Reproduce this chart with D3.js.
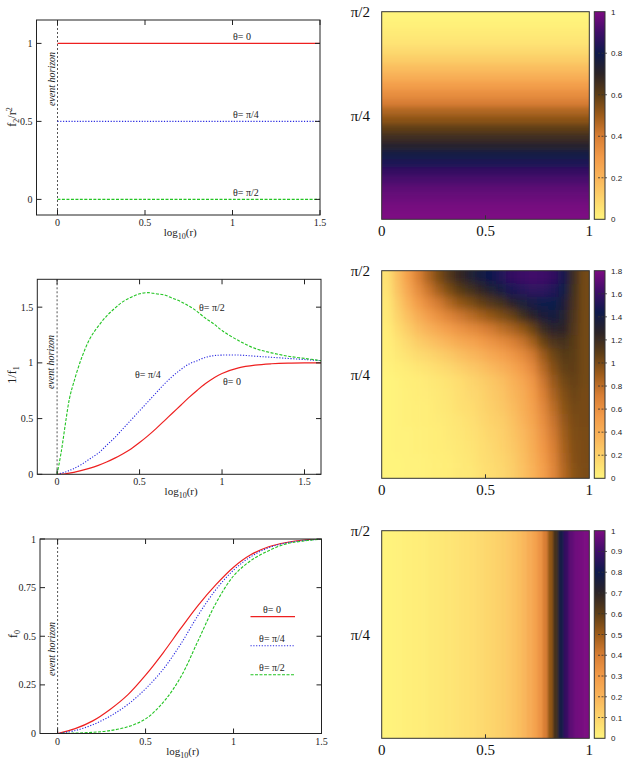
<!DOCTYPE html>
<html>
<head>
<meta charset="utf-8">
<script src="https://cdn.jsdelivr.net/npm/d3@7"></script>
<style>
  body { margin: 0; background: #fff; }
</style>
</head>
<body>
<script>
'use strict';

// ---------- data ----------

// panel 1 : f2/r^2 vs log10(r)
var logR1 = [0, 0.5, 1, 1.5];
var f2Theta0 = [1, 1, 1, 1];
var f2ThetaPi4 = [0.5, 0.5, 0.5, 0.5];
var f2ThetaPi2 = [0, 0, 0, 0];

// panel 2 : 1/f1 vs log10(r)
var logR2 = [0, 0.025, 0.05, 0.075, 0.1, 0.15, 0.2, 0.25, 0.3, 0.35, 0.4, 0.45, 0.5, 0.55, 0.6,
  0.65, 0.7, 0.75, 0.8, 0.85, 0.9, 0.95, 1.0, 1.1, 1.2, 1.3, 1.4, 1.5, 1.6];
var f1Theta0 = [0, 0.002, 0.005, 0.01, 0.018, 0.035, 0.055, 0.08, 0.11, 0.145, 0.185, 0.23, 0.285, 0.345, 0.41,
  0.48, 0.55, 0.62, 0.69, 0.755, 0.815, 0.865, 0.905, 0.955, 0.98, 0.992, 0.998, 1.0, 1.0];
var f1ThetaPi4 = [0, 0.01, 0.02, 0.035, 0.05, 0.09, 0.14, 0.19, 0.26, 0.33, 0.41, 0.49, 0.57, 0.65, 0.73,
  0.81, 0.88, 0.94, 0.99, 1.02, 1.05, 1.065, 1.07, 1.07, 1.06, 1.05, 1.04, 1.03, 1.02];
var f1ThetaPi2 = [0, 0.2, 0.45, 0.68, 0.82, 1.05, 1.22, 1.33, 1.42, 1.49, 1.55, 1.59, 1.62, 1.63, 1.62,
  1.61, 1.58, 1.55, 1.51, 1.46, 1.40, 1.35, 1.29, 1.20, 1.13, 1.09, 1.06, 1.04, 1.02];

// panel 3 : f0 vs log10(r)
var logR3 = [0, 0.1, 0.2, 0.3, 0.4, 0.5, 0.6, 0.7, 0.8, 0.9, 1.0, 1.1, 1.2, 1.3, 1.4, 1.5];
var f0Theta0 = [0, 0.025, 0.065, 0.125, 0.20, 0.30, 0.415, 0.54, 0.66, 0.765, 0.855, 0.92, 0.96, 0.982, 0.995, 1.0];
var f0ThetaPi4 = [0, 0.015, 0.045, 0.09, 0.15, 0.23, 0.33, 0.46, 0.61, 0.74, 0.84, 0.91, 0.955, 0.98, 0.992, 1.0];
var f0ThetaPi2 = [0, 0.002, 0.006, 0.015, 0.035, 0.075, 0.16, 0.29, 0.48, 0.67, 0.81, 0.89, 0.94, 0.975, 0.99, 1.0];

// tick labels
var xTicksLog = [0, 0.5, 1, 1.5];
var yTicks1 = [0, 0.5, 1];
var yTicks2 = [0, 0.5, 1, 1.5];
var yTicks3 = [0, 0.25, 0.5, 0.75, 1];
var hmXTicks = [0, 0.5, 1];
var hmYTicks = [{ v: Math.PI / 4, label: 'π/4' }, { v: Math.PI / 2, label: 'π/2' }];
var cbTicks1 = [0, 0.2, 0.4, 0.6, 0.8, 1];
var cbTicks2 = [0, 0.2, 0.4, 0.6, 0.8, 1, 1.2, 1.4, 1.6, 1.8];
var cbTicks3 = [0, 0.1, 0.2, 0.3, 0.4, 0.5, 0.6, 0.7, 0.8, 0.9, 1];

// heatmap 1 (f2/r^2): one value per theta row, top row (theta = pi/2) first
var hm1Rows = [0.00, 0.01, 0.03, 0.05, 0.08, 0.12, 0.17, 0.22, 0.28, 0.34, 0.40, 0.47,
  0.53, 0.60, 0.66, 0.72, 0.78, 0.83, 0.88, 0.92, 0.95, 0.97, 0.99, 1.00];

// heatmap 2 (1/f1): 16 theta rows (top first) x 20 columns in x
var hm2Grid = [
  [0.10, 0.30, 0.50, 0.70, 0.86, 1.00, 1.12, 1.23, 1.31, 1.38, 1.45, 1.52, 1.57, 1.61, 1.63, 1.62, 1.57, 1.46, 1.20, 1.02],
  [0.09, 0.27, 0.44, 0.62, 0.76, 0.89, 1.00, 1.10, 1.17, 1.24, 1.31, 1.38, 1.48, 1.53, 1.56, 1.56, 1.52, 1.42, 1.18, 1.02],
  [0.07, 0.22, 0.37, 0.52, 0.64, 0.74, 0.84, 0.93, 0.99, 1.06, 1.12, 1.18, 1.28, 1.34, 1.40, 1.44, 1.44, 1.36, 1.16, 1.02],
  [0.06, 0.18, 0.29, 0.41, 0.51, 0.60, 0.68, 0.75, 0.81, 0.87, 0.93, 0.99, 1.05, 1.18, 1.26, 1.35, 1.38, 1.32, 1.14, 1.02],
  [0.04, 0.13, 0.22, 0.31, 0.38, 0.45, 0.51, 0.58, 0.63, 0.68, 0.74, 0.80, 0.86, 0.93, 1.04, 1.20, 1.28, 1.26, 1.12, 1.02],
  [0.03, 0.09, 0.15, 0.22, 0.27, 0.32, 0.37, 0.43, 0.47, 0.52, 0.58, 0.63, 0.70, 0.77, 0.88, 1.04, 1.14, 1.17, 1.10, 1.02],
  [0.02, 0.06, 0.10, 0.14, 0.17, 0.21, 0.25, 0.30, 0.34, 0.38, 0.44, 0.49, 0.56, 0.63, 0.74, 0.90, 1.03, 1.11, 1.09, 1.02],
  [0.01, 0.03, 0.05, 0.08, 0.10, 0.13, 0.16, 0.20, 0.24, 0.28, 0.33, 0.38, 0.45, 0.53, 0.64, 0.82, 0.97, 1.07, 1.08, 1.02],
  [0.00, 0.01, 0.03, 0.04, 0.06, 0.08, 0.10, 0.13, 0.17, 0.21, 0.25, 0.30, 0.37, 0.45, 0.56, 0.75, 0.91, 1.02, 1.06, 1.02],
  [0.00, 0.01, 0.02, 0.04, 0.05, 0.07, 0.09, 0.12, 0.15, 0.18, 0.23, 0.27, 0.34, 0.41, 0.52, 0.70, 0.86, 0.98, 1.04, 1.01],
  [0.00, 0.01, 0.02, 0.03, 0.04, 0.06, 0.08, 0.11, 0.13, 0.17, 0.21, 0.25, 0.31, 0.39, 0.49, 0.65, 0.81, 0.95, 1.02, 1.01],
  [0.00, 0.01, 0.02, 0.03, 0.04, 0.05, 0.07, 0.09, 0.11, 0.15, 0.19, 0.22, 0.28, 0.36, 0.46, 0.61, 0.77, 0.92, 1.00, 1.01],
  [0.00, 0.01, 0.01, 0.02, 0.03, 0.04, 0.06, 0.08, 0.10, 0.13, 0.17, 0.20, 0.26, 0.33, 0.43, 0.58, 0.74, 0.89, 0.99, 1.00],
  [0.00, 0.01, 0.01, 0.02, 0.03, 0.04, 0.05, 0.07, 0.09, 0.12, 0.15, 0.19, 0.24, 0.31, 0.41, 0.55, 0.71, 0.87, 0.98, 1.00],
  [0.00, 0.00, 0.01, 0.01, 0.02, 0.03, 0.04, 0.06, 0.08, 0.11, 0.14, 0.17, 0.22, 0.29, 0.39, 0.52, 0.68, 0.85, 0.97, 1.00],
  [0.00, 0.00, 0.01, 0.01, 0.02, 0.03, 0.04, 0.06, 0.07, 0.10, 0.13, 0.16, 0.21, 0.28, 0.37, 0.50, 0.66, 0.83, 0.96, 1.00]
];

// heatmap 3 (f0): one value per x column (bands are vertical)
var hm3Cols = [0.00, 0.003, 0.006, 0.009, 0.012, 0.015, 0.018, 0.022, 0.026, 0.03,
  0.034, 0.038, 0.043, 0.048, 0.053, 0.058, 0.064, 0.07, 0.077, 0.084,
  0.092, 0.10, 0.11, 0.12, 0.135, 0.15, 0.17, 0.195, 0.23, 0.27,
  0.32, 0.40, 0.52, 0.65, 0.78, 0.88, 0.95, 0.98, 0.99, 1.00];

// palette (fraction of colour range -> colour)
var paletteStops = [0, 0.1, 0.2, 0.3, 0.4, 0.5, 0.6, 0.7, 0.8, 0.9, 1];
var paletteColors = ['#fff47c', '#fdd46c', '#f9b45a', '#f29a48', '#d87e34', '#9e5c1a',
  '#5e3e16', '#2c2426', '#0e1a4c', '#3e0e68', '#7c0a82'];

// ---------- drawing ----------

var svg = d3.select('body').append('svg')
  .attr('width', 629)
  .attr('height', 763)
  .style('font-family', '"Liberation Serif", "Times New Roman", serif');

var defs = svg.append('defs');

var RED = '#ee2020', BLUE = '#2828e0', GREEN = '#22c422';

function styleSeries(sel, s) {
  sel.style('fill', 'none')
    .style('stroke', s.color)
    .style('stroke-width', s.width)
    .style('stroke-dasharray', s.dash);
}

function fmt(v) { return String(+v.toFixed(2)); }

function drawLinePanel(p) {
  var g = svg.append('g');
  var x = d3.scaleLinear().domain(p.xDomain).range([p.left, p.right]);
  var y = d3.scaleLinear().domain(p.yDomain).range([p.bottom, p.top]);

  defs.append('clipPath').attr('id', 'clip' + p.id)
    .append('rect')
    .attr('x', p.left).attr('y', p.top)
    .attr('width', p.right - p.left).attr('height', p.bottom - p.top);

  // event horizon
  g.append('line')
    .attr('x1', x(0)).attr('x2', x(0))
    .attr('y1', p.top).attr('y2', p.bottom)
    .style('stroke', '#555')
    .style('stroke-width', 1)
    .style('stroke-dasharray', '2,2');
  g.append('text')
    .attr('transform', 'translate(' + (x(0) - 3) + ',' + p.horizonY + ') rotate(-90)')
    .attr('text-anchor', 'middle')
    .style('font-size', '10px')
    .style('font-style', 'italic')
    .style('fill', '#222')
    .text('event horizon');

  var line = d3.line()
    .x(function (d) { return x(d[0]); })
    .y(function (d) { return y(d[1]); })
    .curve(d3.curveCatmullRom.alpha(0.5));

  p.series.forEach(function (s) {
    g.append('path')
      .datum(d3.zip(p.xs, s.values))
      .attr('d', line)
      .attr('clip-path', 'url(#clip' + p.id + ')')
      .call(styleSeries, s);
  });

  // frame
  g.append('rect')
    .attr('x', p.left).attr('y', p.top)
    .attr('width', p.right - p.left).attr('height', p.bottom - p.top)
    .style('fill', 'none')
    .style('stroke', '#222')
    .style('stroke-width', 1);

  // ticks, mirrored and pointing inwards
  var tl = 5;
  p.xTicks.forEach(function (t) {
    var px = x(t);
    g.append('line').attr('x1', px).attr('x2', px).attr('y1', p.bottom).attr('y2', p.bottom - tl).style('stroke', '#222');
    g.append('line').attr('x1', px).attr('x2', px).attr('y1', p.top).attr('y2', p.top + tl).style('stroke', '#222');
    g.append('text')
      .attr('x', px).attr('y', p.bottom + 11)
      .attr('text-anchor', 'middle')
      .style('font-size', '10px').style('fill', '#222')
      .text(fmt(t));
  });
  p.yTicks.forEach(function (t) {
    var py = y(t);
    g.append('line').attr('x1', p.left).attr('x2', p.left + tl).attr('y1', py).attr('y2', py).style('stroke', '#222');
    g.append('line').attr('x1', p.right).attr('x2', p.right - tl).attr('y1', py).attr('y2', py).style('stroke', '#222');
    g.append('text')
      .attr('x', p.left - 4).attr('y', py + 3.5)
      .attr('text-anchor', 'end')
      .style('font-size', '10px').style('fill', '#222')
      .text(fmt(t));
  });

  // x title: log10(r)
  var xt = g.append('text')
    .attr('x', (p.left + p.right) / 2 + 2).attr('y', p.bottom + 21)
    .attr('text-anchor', 'middle')
    .style('font-size', '11px').style('fill', '#222');
  xt.append('tspan').text('log');
  xt.append('tspan').attr('dy', 3).style('font-size', '8px').text('10');
  xt.append('tspan').attr('dy', -3).text('(r)');

  // y title
  var yt = g.append('text')
    .attr('transform', 'translate(' + p.yTitleX + ',' + p.yTitleY + ') rotate(-90)')
    .attr('text-anchor', 'middle')
    .style('font-size', '12px').style('fill', '#222');
  p.yTitle.forEach(function (part) {
    var ts = yt.append('tspan').text(part.t);
    if (part.dy) ts.attr('dy', part.dy);
    if (part.small) ts.style('font-size', '8px');
  });

  return { g: g, x: x, y: y };
}

// panel 1
var p1 = drawLinePanel({
  id: 1, left: 36.5, right: 320, top: 20, bottom: 215,
  xDomain: [-0.12, 1.5], yDomain: [-0.1, 1.15],
  xs: logR1, xTicks: xTicksLog, yTicks: yTicks1, horizonY: 79,
  yTitleX: 16, yTitleY: 117,
  yTitle: [{ t: 'f' }, { t: '2', dy: 3, small: true }, { t: '/r', dy: -3 }, { t: '2', dy: -4, small: true }],
  series: [
    { values: f2Theta0, color: RED, width: 1.2, dash: null },
    { values: f2ThetaPi4, color: BLUE, width: 1.1, dash: '1.2,1.6' },
    { values: f2ThetaPi2, color: GREEN, width: 1.1, dash: '3,1.5' }
  ]
});
[[1, 'θ= 0'], [0.5, 'θ= π/4'], [0, 'θ= π/2']].forEach(function (d) {
  p1.g.append('text')
    .attr('x', 233).attr('y', p1.y(d[0]) - 3)
    .style('font-size', '10px').style('fill', '#222')
    .text(d[1]);
});

// panel 2
var p2 = drawLinePanel({
  id: 2, left: 37.3, right: 321, top: 279.3, bottom: 474.3,
  xDomain: [-0.12, 1.6], yDomain: [0, 1.75],
  xs: logR2, xTicks: xTicksLog, yTicks: yTicks2, horizonY: 362,
  yTitleX: 16, yTitleY: 375,
  yTitle: [{ t: '1/f' }, { t: '1', dy: 3, small: true }],
  series: [
    { values: f1Theta0, color: RED, width: 1.2, dash: null },
    { values: f1ThetaPi4, color: BLUE, width: 1.1, dash: '1.2,1.6' },
    { values: f1ThetaPi2, color: GREEN, width: 1.1, dash: '3,1.5' }
  ]
});
[[199, 311, 'θ= π/2'], [135, 378, 'θ= π/4'], [223, 385, 'θ= 0']].forEach(function (d) {
  p2.g.append('text')
    .attr('x', d[0]).attr('y', d[1])
    .style('font-size', '10px').style('fill', '#222')
    .text(d[2]);
});

// panel 3
var series3 = [
  { values: f0Theta0, color: RED, width: 1.2, dash: null, label: 'θ= 0' },
  { values: f0ThetaPi4, color: BLUE, width: 1.1, dash: '1.2,1.6', label: 'θ= π/4' },
  { values: f0ThetaPi2, color: GREEN, width: 1.1, dash: '3,1.5', label: 'θ= π/2' }
];
var p3 = drawLinePanel({
  id: 3, left: 40, right: 321.5, top: 539, bottom: 733.5,
  xDomain: [-0.1, 1.5], yDomain: [0, 1],
  xs: logR3, xTicks: xTicksLog, yTicks: yTicks3, horizonY: 649,
  yTitleX: 17, yTitleY: 634,
  yTitle: [{ t: 'f' }, { t: '0', dy: 3, small: true }],
  series: series3
});
series3.forEach(function (s, i) {
  var ly = 616.7 + i * 29;
  p3.g.append('text')
    .attr('x', 272).attr('y', ly - 4)
    .attr('text-anchor', 'middle')
    .style('font-size', '10px').style('fill', '#222')
    .text(s.label);
  p3.g.append('line')
    .attr('x1', 250.5).attr('x2', 295).attr('y1', ly).attr('y2', ly)
    .call(styleSeries, s);
});

// ---------- heatmaps ----------

var hmLeft = 381.7, hmRight = 589.3, cbLeft = 594.3, cbRight = 605;

function drawHeatmap(h) {
  var g = svg.append('g');
  var x = d3.scaleLinear().domain([0, 1]).range([hmLeft, hmRight]);
  var y = d3.scaleLinear().domain([0, Math.PI / 2]).range([h.bottom, h.top]);
  var color = d3.scaleLinear()
    .domain(paletteStops.map(function (s) { return s * h.max; }))
    .range(paletteColors)
    .interpolate(d3.interpolateRgb);

  var nRows = h.grid.length, nCols = h.grid[0].length;
  var cells = [];
  h.grid.forEach(function (row, i) {
    row.forEach(function (v, j) { cells.push({ i: i, j: j, v: v }); });
  });

  defs.append('clipPath').attr('id', 'hmclip' + h.id)
    .append('rect')
    .attr('x', hmLeft).attr('y', h.top)
    .attr('width', hmRight - hmLeft).attr('height', h.bottom - h.top);

  // slight smoothing of the cell edges, like the interpolated original
  defs.append('filter').attr('id', 'hmblur' + h.id)
    .attr('x', '-10%').attr('y', '-10%').attr('width', '120%').attr('height', '120%')
    .append('feGaussianBlur').attr('stdDeviation', h.blur);

  var pad = 12; // outer cells run past the frame so the blur does not fade at the edges
  function x0(d) { return x(d.j / nCols) - (d.j === 0 ? pad : 0); }
  function x1(d) { return x((d.j + 1) / nCols) + (d.j === nCols - 1 ? pad : 0.6); }
  function y0(d) { return y(Math.PI / 2 * (1 - d.i / nRows)) - (d.i === 0 ? pad : 0); }
  function y1(d) { return y(Math.PI / 2 * (1 - (d.i + 1) / nRows)) + (d.i === nRows - 1 ? pad : 0.6); }

  g.append('g')
    .attr('clip-path', 'url(#hmclip' + h.id + ')')
    .append('g')
    .attr('filter', 'url(#hmblur' + h.id + ')')
    .selectAll('rect')
    .data(cells)
    .enter()
    .append('rect')
    .attr('x', x0)
    .attr('width', function (d) { return x1(d) - x0(d); })
    .attr('y', y0)
    .attr('height', function (d) { return y1(d) - y0(d); })
    .style('fill', function (d) { return color(d.v); });

  g.append('rect')
    .attr('x', hmLeft).attr('y', h.top)
    .attr('width', hmRight - hmLeft).attr('height', h.bottom - h.top)
    .style('fill', 'none').style('stroke', '#333').style('stroke-width', 1);

  // ticks and labels
  g.append('line')
    .attr('x1', x(0.5)).attr('x2', x(0.5))
    .attr('y1', h.bottom).attr('y2', h.bottom - 4)
    .style('stroke', '#333');
  hmXTicks.forEach(function (t) {
    g.append('text')
      .attr('x', x(t)).attr('y', h.bottom + 17)
      .attr('text-anchor', 'middle')
      .style('font-size', '15px').style('fill', '#111')
      .text(fmt(t));
  });
  hmYTicks.forEach(function (t) {
    g.append('text')
      .attr('x', 370).attr('y', y(t.v) + 5)
      .attr('text-anchor', 'end')
      .style('font-size', '15px').style('fill', '#111')
      .text(t.label);
  });

  // colour box
  var grad = defs.append('linearGradient')
    .attr('id', 'grad' + h.id)
    .attr('x1', 0).attr('y1', 1).attr('x2', 0).attr('y2', 0);
  paletteStops.forEach(function (s, k) {
    grad.append('stop').attr('offset', s).attr('stop-color', paletteColors[k]);
  });
  g.append('rect')
    .attr('x', cbLeft).attr('y', h.top)
    .attr('width', cbRight - cbLeft).attr('height', h.bottom - h.top)
    .style('fill', 'url(#grad' + h.id + ')')
    .style('stroke', '#333').style('stroke-width', 1);

  var cy = d3.scaleLinear().domain([0, h.max]).range([h.bottom, h.top]);
  h.cbTicks.forEach(function (t) {
    if (t > 0 && t < h.max) {
      g.append('line')
        .attr('x1', cbRight - 7).attr('x2', cbRight + 2)
        .attr('y1', cy(t)).attr('y2', cy(t))
        .style('stroke', '#333').style('stroke-width', 0.8)
        .style('stroke-dasharray', '2,1.5');
    }
    g.append('text')
      .attr('x', 611).attr('y', cy(t) + 3)
      .style('font-family', '"Liberation Sans", Arial, sans-serif')
      .style('font-size', '8px').style('fill', '#222')
      .text(fmt(t));
  });
}

drawHeatmap({
  id: 1, top: 11.7, bottom: 219.3, max: 1, blur: '0 2.5',
  grid: hm1Rows.map(function (v) { return [v]; }),
  cbTicks: cbTicks1
});
drawHeatmap({
  id: 2, top: 270.7, bottom: 478.3, max: 1.8, blur: '3.5 4.5',
  grid: hm2Grid,
  cbTicks: cbTicks2
});
drawHeatmap({
  id: 3, top: 530.7, bottom: 738.3, max: 1, blur: '1.2 0',
  grid: [hm3Cols],
  cbTicks: cbTicks3
});
</script>
</body>
</html>
